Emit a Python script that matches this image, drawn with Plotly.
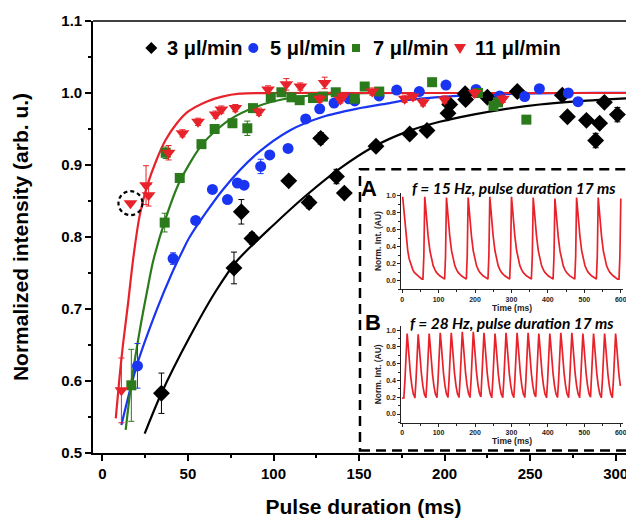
import plotly.graph_objects as go

# ---------------- main data ----------------
x_3 = [34.5, 76.9, 81.2, 87.4, 108.9, 120.8, 127.6, 136.8, 141.4, 159.9, 179.6, 189.7,
       202.0, 203.0, 212.0, 212.3, 225.0, 242.5, 268.8, 271.8, 282.9, 288.3, 290.6, 293.4, 301.0]
y_3 = [0.583, 0.757, 0.835, 0.798, 0.878, 0.848, 0.937, 0.884, 0.861, 0.926, 0.943, 0.948,
       0.972, 0.984, 0.999, 0.991, 0.994, 1.002, 0.997, 0.967, 0.962, 0.934, 0.958, 0.987, 0.970]
e_3 = [0.028, 0.022, 0.017, 0.008, 0.005, 0.008, 0.008, 0.010, 0.005, 0.005, 0.005, 0.005,
       0.005, 0.005, 0.005, 0.005, 0.005, 0.005, 0.005, 0.005, 0.005, 0.010, 0.005, 0.005, 0.010]

x_5 = [20.5, 41.3, 54.5, 64.3, 73.1, 78.9, 82.8, 92.5, 97.8, 108.5, 118.8, 127.0, 135.4,
       144.1, 147.5, 161.7, 172.0, 185.2, 200.8, 218.4, 232.2, 246.8, 255.4, 272.3, 278.0]
y_5 = [0.621, 0.770, 0.823, 0.866, 0.852, 0.875, 0.872, 0.898, 0.914, 0.923, 0.964, 0.978, 0.986,
       0.992, 0.989, 0.996, 1.004, 1.002, 1.011, 1.005, 0.996, 0.995, 1.006, 1.000, 0.988]
e_5 = [0.031, 0.008, 0.005, 0.005, 0.005, 0.005, 0.005, 0.010, 0.005, 0.005, 0.005, 0.005, 0.005,
       0.005, 0.005, 0.005, 0.005, 0.005, 0.005, 0.005, 0.005, 0.005, 0.005, 0.005, 0.005]

x_7 = [16.9, 36.4, 37.0, 45.2, 57.9, 65.6, 76.0, 84.7, 88.0, 98.4, 104.6, 110.5, 115.3,
       123.1, 128.9, 136.4, 147.5, 153.3, 161.8, 192.7, 219.5, 228.6, 231.2, 247.8]
y_7 = [0.594, 0.820, 0.917, 0.882, 0.929, 0.950, 0.958, 0.951, 0.979, 0.994, 1.001, 0.994, 0.990,
       0.993, 0.995, 1.001, 0.992, 1.009, 1.002, 1.015, 1.000, 0.982, 0.987, 0.963]
e_7 = [0.050, 0.013, 0.008, 0.005, 0.005, 0.005, 0.005, 0.010, 0.005, 0.005, 0.005, 0.005, 0.005,
       0.005, 0.005, 0.005, 0.005, 0.005, 0.005, 0.005, 0.005, 0.005, 0.005, 0.005]

x_11 = [11.1, 16.4, 25.5, 27.0, 38.7, 46.8, 55.9, 66.2, 69.5, 77.7, 91.5, 96.8, 107.5, 115.7,
        127.0, 129.9, 139.1, 140.6, 157.7, 176.7, 181.5, 187.4, 200.0, 217.6, 234.1]
y_11 = [0.587, 0.847, 0.872, 0.858, 0.917, 0.944, 0.960, 0.970, 0.977, 0.979, 0.974, 1.005, 1.012, 1.009,
        0.992, 1.014, 0.991, 0.995, 1.002, 0.992, 0.995, 0.987, 0.991, 1.000, 0.992]
e_11 = [0.045, 0.000, 0.027, 0.015, 0.010, 0.005, 0.005, 0.005, 0.005, 0.005, 0.005, 0.005, 0.008, 0.005,
        0.005, 0.008, 0.005, 0.005, 0.005, 0.005, 0.005, 0.005, 0.005, 0.005, 0.005]
highlight_index_11 = 1  # circled point

# fitted curves
fit_x_3 = [24.7, 34.5, 51.0, 66.6, 78.3, 99.7, 119.2, 138.7, 158.2, 177.7, 197.1, 216.6, 236.1, 255.6, 275.0, 310.0]
fit_y_3 = [0.527, 0.583, 0.661, 0.726, 0.766, 0.816, 0.858, 0.895, 0.925, 0.946, 0.960, 0.970, 0.978, 0.984, 0.988, 0.993]
fit_x_5 = [11.1, 19.9, 31.6, 40.3, 47.1, 51.0, 70.5, 90.0, 109.5, 128.9, 148.4, 167.9, 177.7, 216.6, 275.0, 310.0]
fit_y_5 = [0.539, 0.620, 0.698, 0.748, 0.782, 0.800, 0.866, 0.915, 0.948, 0.967, 0.978, 0.986, 0.990, 0.997, 1.000, 1.000]
fit_x_7 = [13.6, 16.9, 21.8, 26.7, 29.6, 37.0, 45.2, 58.8, 74.4, 90.0, 109.5, 138.7, 200.0, 310.0]
fit_y_7 = [0.532, 0.597, 0.670, 0.732, 0.766, 0.826, 0.877, 0.930, 0.963, 0.981, 0.993, 0.999, 1.000, 1.000]
fit_x_11 = [7.8, 10.0, 12.0, 15.0, 18.0, 21.8, 26.0, 31.6, 37.0, 43.2, 50.0, 60.8, 70.0, 80.2, 100.0, 150.0, 250.0, 310.0]
fit_y_11 = [0.548, 0.605, 0.650, 0.708, 0.770, 0.830, 0.870, 0.907, 0.935, 0.957, 0.974, 0.988, 0.995, 0.999, 1.000, 1.000, 1.000, 1.000]

series_names = ["3 \u03bcl/min", "5 \u03bcl/min", "7 \u03bcl/min", "11 \u03bcl/min"]

# ---------------- inset data ----------------
A_peak_t = [1.5, 62.2, 121.7, 181.2, 240.6, 300.1, 359.7, 419.2, 478.7, 538.0, 600.0]
A_peak_h = [0.99, 0.99, 0.98, 0.98, 0.99, 0.99, 0.98, 0.97, 0.98, 0.98, 0.97]
A_shape_dt = [-5, -2.5, 0, 3, 6, 9, 14, 18, 23, 28, 32, 41, 50, 53]
A_shape_v = [0.02, 0.30, 1.0, 0.85, 0.68, 0.54, 0.36, 0.26, 0.18, 0.13, 0.10, 0.06, 0.03, 0.02]

B_peak_t = [13.8, 44.1, 74.3, 104.6, 134.8, 165.1, 195.3, 224.6, 254.9, 285.1, 315.4, 345.6,
            375.0, 405.2, 435.4, 465.7, 495.9, 525.2, 555.5, 585.7]
B_peak_h = [0.96, 0.95, 0.96, 0.97, 0.97, 0.98, 0.98, 0.97, 0.96, 0.97, 0.97, 0.97,
            0.96, 0.96, 0.97, 0.97, 0.96, 0.96, 0.96, 0.96]
B_shape_dt = [-9, -6, -3, 0, 2, 5, 9, 13, 17, 21]
B_shape_v = [0.20, 0.42, 0.72, 1.0, 0.90, 0.70, 0.50, 0.35, 0.25, 0.21]
B_lead_t = [0.0]
B_lead_v = [0.19]


def build_trace(peaks, heights, dts, vals, lead_t=(), lead_v=()):
    ts, vs = list(lead_t), list(lead_v)
    for p, h in zip(peaks, heights):
        for dt, v in zip(dts, vals):
            t = p + dt
            if 0 <= t <= 600 and (not ts or t > ts[-1]):
                ts.append(t)
                vs.append(v * h)
    return ts, vs


tA, vA = build_trace(A_peak_t, A_peak_h, A_shape_dt, A_shape_v)
tB, vB = build_trace(B_peak_t, B_peak_h, B_shape_dt, B_shape_v, B_lead_t, B_lead_v)

# ---------------- figure ----------------
BLACK = "#000000"
BLUE = "#1a35f2"
GREEN = "#2b7a1b"
RED = "#e8222a"
MAINFONT = "Liberation Sans"

fig = go.Figure()

fits = [(fit_x_3, fit_y_3, BLACK), (fit_x_5, fit_y_5, BLUE), (fit_x_7, fit_y_7, GREEN), (fit_x_11, fit_y_11, RED)]
for fx, fy, c in fits:
    fig.add_trace(go.Scatter(x=fx, y=fy, mode="lines", line=dict(color=c, width=2.2, shape="spline", smoothing=0.8),
                             showlegend=False, hoverinfo="skip"))

colors = [BLACK, BLUE, GREEN, RED]
symbols = ["diamond", "circle", "square", "triangle-down"]
sizes = [13, 11, 10, 12]
pts = [(x_3, y_3, e_3), (x_5, y_5, e_5), (x_7, y_7, e_7), (x_11, y_11, e_11)]
for (xs, ys, es), c, sym, sz, nm in zip(pts, colors, symbols, sizes, series_names):
    fig.add_trace(go.Scatter(
        x=xs, y=ys, mode="markers", name=nm, showlegend=False,
        marker=dict(symbol=sym, size=sz, color=c, line=dict(width=0)),
        error_y=dict(type="data", array=es, visible=True, color=c, thickness=1, width=3),
    ))

# insets
fig.add_trace(go.Scatter(x=tA, y=vA, mode="lines", xaxis="x2", yaxis="y2",
                         line=dict(color=RED, width=1.7), showlegend=False, hoverinfo="skip"))
fig.add_trace(go.Scatter(x=tB, y=vB, mode="lines", xaxis="x3", yaxis="y3",
                         line=dict(color=RED, width=1.7), showlegend=False, hoverinfo="skip"))

main_tick_font = dict(family=MAINFONT, size=15, color="black", weight="bold")
title_font = dict(family=MAINFONT, size=21, color="black", weight="bold")

# page has an 8px body margin, so the figure is sized to end at the window edge
fig.update_layout(
    width=626, height=515,
    margin=dict(l=85, r=0, t=13, b=70),
    paper_bgcolor="white", plot_bgcolor="white",
    showlegend=False,
    xaxis=dict(range=[-5.5, 310.7], tickvals=[0, 50, 100, 150, 200, 250, 300],
               ticks="outside", ticklen=6, tickwidth=1.5, tickcolor="black",
               minor=dict(dtick=25, ticks="outside", ticklen=3.5, tickwidth=1.5, tickcolor="black"),
               showline=True, linewidth=1.6, linecolor="black", showgrid=False, zeroline=False,
               tickfont=main_tick_font, automargin=False,
               title=dict(text="Pulse duration (ms)", font=title_font, standoff=19)),
    yaxis=dict(range=[0.5, 1.1], dtick=0.1, tick0=0.5, tickformat=".1f",
               ticks="outside", ticklen=6, tickwidth=1.5, tickcolor="black",
               minor=dict(dtick=0.05, ticks="outside", ticklen=3.5, tickwidth=1.5, tickcolor="black"),
               showline=True, linewidth=1.6, linecolor="black", showgrid=False, zeroline=False,
               tickfont=main_tick_font, automargin=False,
               title=dict(text="Normalized intensity (arb. u.)", font=title_font, standoff=27)),
)

inset_tick_font = dict(family=MAINFONT, size=7, color="#222", weight="bold")
inset_title_font = dict(family=MAINFONT, size=8.5, color="#222", weight="bold")


def inset_axes(xdom, ydom, anchor_x, anchor_y, yrange):
    xa = dict(domain=xdom, anchor=anchor_y, range=[-2, 605], tickvals=[0, 100, 200, 300, 400, 500, 600],
              ticks="outside", ticklen=3, tickwidth=1, tickcolor="#222",
              minor=dict(dtick=50, ticks="outside", ticklen=2, tickwidth=1, tickcolor="#222"),
              showline=True, linewidth=1.2, linecolor="#222", showgrid=False, zeroline=False,
              tickfont=inset_tick_font, automargin=False,
              title=dict(text="Time (ms)", font=inset_title_font, standoff=1))
    ya = dict(domain=ydom, anchor=anchor_x, range=yrange, tickvals=[0, 0.2, 0.4, 0.6, 0.8, 1.0],
              tickformat=".1f", ticks="outside", ticklen=3, tickwidth=1, tickcolor="#222",
              minor=dict(dtick=0.1, ticks="outside", ticklen=2, tickwidth=1, tickcolor="#222"),
              showline=True, linewidth=1.2, linecolor="#222", showgrid=False, zeroline=False,
              tickfont=inset_tick_font, automargin=False,
              title=dict(text="Norm. Int. (AU)", font=inset_title_font, standoff=3))
    return xa, ya


xa2, ya2 = inset_axes([0.570, 0.979], [0.379, 0.602], "x2", "y2", [-0.10, 1.035])
xa3, ya3 = inset_axes([0.570, 0.979], [0.070, 0.294], "x3", "y3", [-0.104, 1.05])
fig.update_layout(xaxis2=xa2, yaxis2=ya2, xaxis3=xa3, yaxis3=ya3)

# legend key row: symbols drawn as pixel-sized shapes, labels as text
key_sym_x = [0.1078, 0.2963, 0.4861, 0.6784]
key_txt_x = [0.1325, 0.3240, 0.5139, 0.7030]
key_y = 0.9375
key_paths = {
    "diamond": "M0,6 L6,0 L0,-6 L-6,0 Z",
    "square": "M-4,-4 L4,-4 L4,4 L-4,4 Z",
    "triangle-down": "M-6,4 L6,4 L0,-6 Z",
}
for sx, tx, sym, c, nm in zip(key_sym_x, key_txt_x, symbols, colors, series_names):
    if sym == "circle":
        fig.add_shape(type="circle", xref="paper", yref="paper", xsizemode="pixel", ysizemode="pixel",
                      xanchor=sx, yanchor=key_y, x0=-5, x1=5, y0=-5, y1=5,
                      fillcolor=c, line=dict(width=0), layer="above")
    else:
        fig.add_shape(type="path", xref="paper", yref="paper", xsizemode="pixel", ysizemode="pixel",
                      xanchor=sx, yanchor=key_y, path=key_paths[sym],
                      fillcolor=c, line=dict(width=0), layer="above")
    fig.add_annotation(text=nm, xref="paper", yref="paper", x=tx, y=key_y, showarrow=False,
                       xanchor="left", yanchor="middle",
                       font=dict(family=MAINFONT, size=20, color="black", weight="bold"))

# top frame line
fig.add_shape(type="line", xref="paper", yref="paper", x0=0, x1=1, y0=1, y1=1,
              line=dict(color="black", width=1.6))
# dashed inset box
fig.add_shape(type="rect", xref="paper", yref="paper", x0=0.4935, x1=0.9963, y0=0.006, y1=0.657,
              line=dict(color="black", width=2.5, dash="10px,6px"), fillcolor="rgba(0,0,0,0)", layer="above")
# dashed circle around highlighted point
fig.add_shape(type="circle", xref="x", yref="y", xsizemode="pixel", ysizemode="pixel",
              xanchor=x_11[highlight_index_11], yanchor=y_11[highlight_index_11],
              x0=-12, x1=12, y0=-12, y1=12,
              line=dict(color="black", width=2.2, dash="4px,3px"))

inset_title = dict(family="Lato", size=15.5, color="black", weight="bold", style="italic")
big_letter = dict(family=MAINFONT, size=22, color="black", weight="bold")
fig.add_annotation(text="A", xref="paper", yref="paper", x=0.510, y=0.612, showarrow=False,
                   xanchor="center", yanchor="middle", font=big_letter)
fig.add_annotation(text="B", xref="paper", yref="paper", x=0.5176, y=0.302, showarrow=False,
                   xanchor="center", yanchor="middle", font=big_letter)
fig.add_annotation(text="f = 15 Hz, pulse duration 17 ms", xref="paper", yref="paper",
                   x=0.7786, y=0.6127, showarrow=False, xanchor="center", yanchor="middle", font=inset_title)
fig.add_annotation(text="f = 28 Hz, pulse duration 17 ms", xref="paper", yref="paper",
                   x=0.7754, y=0.300, showarrow=False, xanchor="center", yanchor="middle", font=inset_title)

fig.write_html("out.html")
